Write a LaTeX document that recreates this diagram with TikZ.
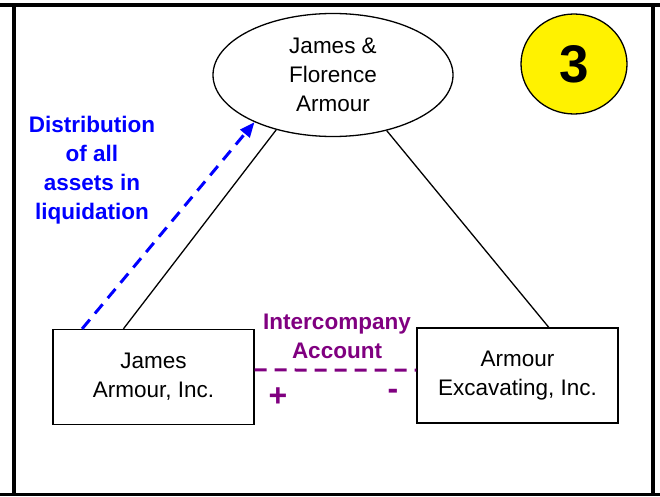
\documentclass[tikz,border=0pt]{standalone}
\usepackage{fontspec}
\setmainfont{Liberation Sans}
\usetikzlibrary{shapes.geometric,arrows.meta}
\definecolor{plum}{RGB}{128,0,128}
\begin{document}
\begin{tikzpicture}[x=1pt, y=-1pt, font=\fontsize{22.5}{29}\selectfont,
    frameline/.style={line width=3.5pt},
    company/.style={draw, line width=1.3pt, minimum width=201pt, minimum height=95pt, align=center},
    boldlabel/.style={font=\fontsize{22.5}{29}\selectfont\bfseries, align=center},
    signlabel/.style={font=\fontsize{32}{32}\selectfont\bfseries, inner sep=0pt},
    dashline/.style={line width=3pt, dash pattern=on 12pt off 8pt}]
    \useasboundingbox (0,0) rectangle (660,497);

    % Frame
    \draw[frameline] (0,5) -- (660,5);
    \draw[frameline] (0,494.5) -- (660,494.5);
    \draw[frameline] (14,5) -- (14,494.5);
    \draw[frameline] (653,5) -- (653,494.5);

    % Owners
    \node[draw, ellipse, line width=1.3pt, minimum width=240pt, minimum height=123pt, align=center, inner sep=0pt] (owners) at (333,75) {James \&\\Florence\\Armour};

    % Number badge
    \node[draw, ellipse, fill=yellow, line width=1.3pt, minimum width=106pt, minimum height=100pt, font=\fontsize{53}{53}\selectfont\bfseries] (badge) at (574,64) {3};

    % Companies
    \node[company] (jai) at (153.5,377) {James\\Armour, Inc.};
    \node[company] (excav) at (517.5,375.5) {Armour\\Excavating, Inc.};

    % Ownership lines
    \draw[line width=1.3pt] (jai.122) -- (owners.224);
    \draw[line width=1.3pt] (excav.57) -- (owners.314);

    % Distribution arrow
    \draw[blue, dashline, -{Triangle[length=15pt,width=12pt]}] (jai.146) -- (owners.211);
    \node[blue, boldlabel] (distlabel) at (92,170) {Distribution\\of all\\assets in\\liquidation};

    % Intercompany account
    \draw[plum, dashline] (jai.4) -- (excav.177);
    \node[plum, boldlabel] (iclabel) at (337,336) {Intercompany\\Account};
    \node[plum, signlabel] (plus) at (278,397.5) {+};
    \node[plum, signlabel] (minus) at (393,394) {-};
\end{tikzpicture}
\end{document}
